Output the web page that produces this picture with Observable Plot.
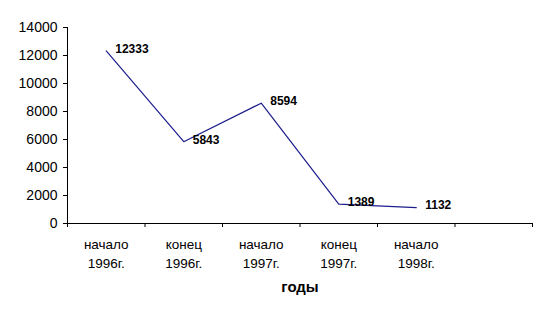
<!DOCTYPE html>
<html><head><meta charset="utf-8">
<script src="https://cdn.jsdelivr.net/npm/d3@7"></script>
<script src="https://cdn.jsdelivr.net/npm/@observablehq/plot@0.6"></script>
<style>body{margin:0;background:#fff}</style>
</head><body><div id="chart"></div>
<script>
const categories = ["начало\n1996г.", "конец\n1996г.", "начало\n1997г.", "конец\n1997г.", "начало\n1998г."];
const values = [12333, 5843, 8594, 1389, 1132];
const yTicks = [0, 2000, 4000, 6000, 8000, 10000, 12000, 14000];
const xTitle = "годы";
const slotCount = 6;

const data = categories.map((c, i) => ({i: i + 0.5, label: c, value: values[i]}));

const chart = Plot.plot({
  width: 546, height: 318,
  marginLeft: 67, marginRight: 14, marginTop: 27, marginBottom: 95,
  style: {fontFamily: "'Liberation Sans', Arial, sans-serif", background: "#fff", color: "#000"},
  x: {domain: [0, slotCount], axis: null},
  y: {domain: [0, 14000], axis: null},
  marks: [
    Plot.axisY({ticks: yTicks, tickSize: 4, tickPadding: 6, fontSize: 14, label: null, tickFormat: d => String(d)}),
    Plot.axisX({ticks: d3.range(0, slotCount + 1), tickSize: 4, label: null, tickFormat: () => ""}),
    Plot.ruleX([0]),
    Plot.ruleY([0]),
    Plot.line(data, {x: "i", y: "value", stroke: "#1c1c8c", strokeWidth: 1.2}),
    Plot.text(data, {x: "i", y: "value", text: d => String(d.value), dx: 9, dy: -2, textAnchor: "start", fontWeight: "bold", fontSize: 12}),
    Plot.text(data, {x: "i", y: () => 0, text: "label", dy: 28.5, lineHeight: 1.41, fontSize: 13.5, lineAnchor: "middle"}),
    Plot.text([xTitle], {x: () => slotCount / 2, y: () => 0, text: d => d, dy: 64, fontWeight: "bold", fontSize: 15})
  ]
});
document.getElementById("chart").appendChild(chart);
</script>
</body></html>
